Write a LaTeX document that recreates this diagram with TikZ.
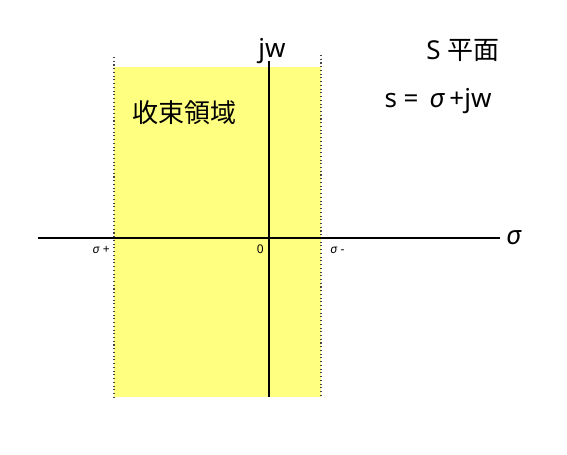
\documentclass[tikz,border=0pt]{standalone}
\usepackage{fontspec}
\setmainfont{Noto Sans}
\newfontfamily\cjk{Noto Sans CJK JP}
\usepackage{tikz}
\usetikzlibrary{positioning}
\definecolor{regionfill}{HTML}{FFFF80}
\definecolor{edgegray}{HTML}{444444}

\begin{document}
\begin{tikzpicture}[
  x=0.75pt, y=-0.75pt,
  axis/.style={draw=black, line width=0.8pt},
  bound/.style={draw=edgegray, dotted, line width=0.8pt},
  biglabel/.style={inner sep=0pt, font=\fontsize{19.5}{22}\selectfont},
  smalllabel/.style={inner sep=0pt, font=\fontsize{9}{11}\selectfont}
]
  \useasboundingbox (0,0) rectangle (567,454);
  % region of convergence
  \fill[regionfill] (114,67) rectangle (321,397);
  \coordinate (lt) at (114,57);
  \coordinate (lb) at (114,397);
  \coordinate (rt) at (321,55);
  \coordinate (rb) at (321,397);
  \draw[bound] (lt) -- (lb);
  \draw[bound] (rt) -- (rb);
  % axes
  \coordinate (xl) at (38,238);
  \coordinate (xr) at (500,238);
  \coordinate (yt) at (269,61);
  \coordinate (yb) at (269,397);
  \draw[axis] (xl) -- (xr);
  \draw[axis] (yt) -- (yb);
  % labels
  \node[biglabel, anchor=base] (jw) at (272,57) {jw};
  \node[biglabel] (plane) at (463,50) {S {\cjk 平面}};
  \node[biglabel] (eq) at (438,101) {s = \,\textit{σ}\,+jw};
  \node[biglabel, anchor=west] (sigma) at (506,238) {\textit{σ}};
  \node[biglabel] (roc) at (184,113) {\cjk 收束領域};
  \node[smalllabel, anchor=east] (splus) at (110,250) {\textit{σ} +};
  \node[smalllabel, anchor=east] (zero) at (264,249) {0};
  \node[smalllabel, anchor=west] (sminus) at (330,250) {\textit{σ} -};
\end{tikzpicture}
\end{document}
